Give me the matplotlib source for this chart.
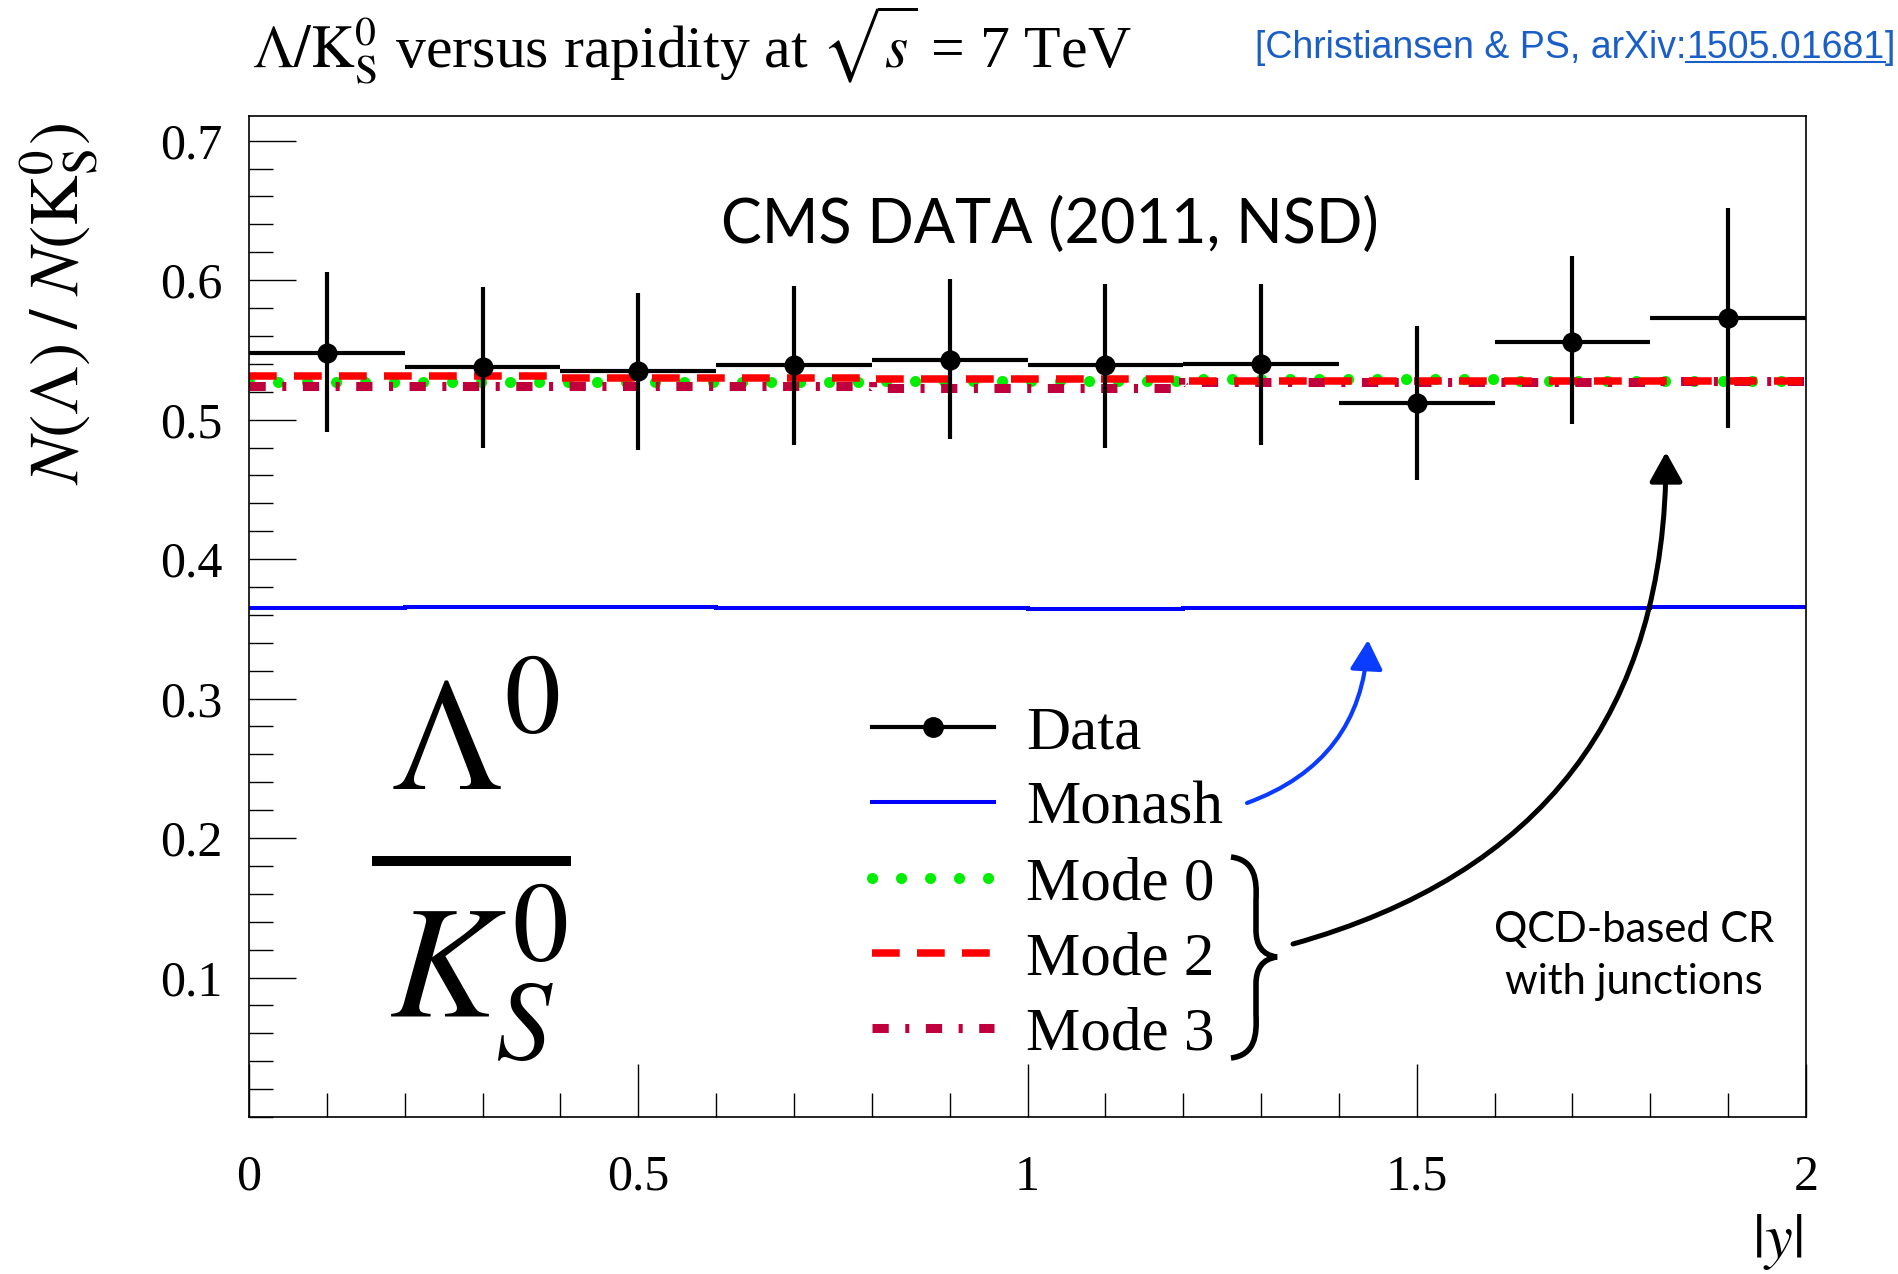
import numpy as np
import matplotlib
matplotlib.use("Agg")
import matplotlib.pyplot as plt
from matplotlib.lines import Line2D
from matplotlib.patches import FancyArrowPatch, PathPatch
from matplotlib.path import Path
from matplotlib.ticker import MultipleLocator, FuncFormatter

plt.rcParams["font.family"] = ["Liberation Serif", "DejaVu Serif"]
plt.rcParams["mathtext.fontset"] = "stix"

# |y| binning, 10 bins of 0.2
bin_edges = [0.0, 0.2, 0.4, 0.6, 0.8, 1.0, 1.2, 1.4, 1.6, 1.8, 2.0]
bin_centers = [0.1, 0.3, 0.5, 0.7, 0.9, 1.1, 1.3, 1.5, 1.7, 1.9]

# CMS data (2011, NSD): ratio and error bar ends
data_ratio = [0.548, 0.538, 0.535, 0.539, 0.543, 0.539, 0.540, 0.512, 0.556, 0.573]
data_high = [0.606, 0.595, 0.591, 0.596, 0.601, 0.597, 0.597, 0.567, 0.617, 0.652]
data_low = [0.491, 0.480, 0.478, 0.482, 0.486, 0.480, 0.482, 0.457, 0.497, 0.494]

# Pythia predictions
monash = [0.3650, 0.3655, 0.3657, 0.3650, 0.3650, 0.3643, 0.3646, 0.3646, 0.3650, 0.3657]
mode0 = [0.527, 0.527, 0.527, 0.527, 0.528, 0.528, 0.529, 0.529, 0.528, 0.528]
mode2 = [0.531, 0.531, 0.530, 0.530, 0.529, 0.529, 0.528, 0.528, 0.528, 0.528]
mode3 = [0.524, 0.524, 0.524, 0.524, 0.523, 0.523, 0.527, 0.527, 0.527, 0.528]

y_ticks = [0.1, 0.2, 0.3, 0.4, 0.5, 0.6, 0.7]
legend_labels = ["Data", "Monash", "Mode 0", "Mode 2", "Mode 3"]

W, H = 1898, 1274


def fx(px):
    return px / W


def fy(py):
    return 1 - py / H


fig = plt.figure(figsize=(W / 100, H / 100), dpi=100)
ax = fig.add_axes([fx(249), fy(1117), (1806 - 249) / W, (1117 - 116) / H])

green, red, crimson, blue = "#00ee00", "#ff0000", "#c0003c", "#0000ff"
dots = (0, (0.01, 2.6))
dashes = (0, (3.7, 2.3))
dashdot = (0, (1.8, 1.83, 0.45, 1.83))

ax.stairs(monash, bin_edges, baseline=None, color=blue, lw=2.9)
ax.stairs(mode0, bin_edges, baseline=None, color=green, lw=8, linestyle=dots, capstyle="round")
ax.stairs(mode3, bin_edges, baseline=None, color=crimson, lw=6.5, linestyle=dashdot)
ax.stairs(mode2, bin_edges, baseline=None, color=red, lw=5.4, linestyle=dashes)

xerr = np.diff(bin_edges) / 2
yerr = [np.subtract(data_ratio, data_low), np.subtract(data_high, data_ratio)]
ax.errorbar(bin_centers, data_ratio, xerr=xerr, yerr=yerr, fmt="o", color="black",
            ms=13.5, elinewidth=3, capsize=0, zorder=5)

ax.set_xlim(0, 2)
ax.set_ylim(0, 0.7177)
ax.xaxis.set_major_locator(MultipleLocator(0.5))
ax.xaxis.set_minor_locator(MultipleLocator(0.1))
ax.set_yticks(y_ticks)
ax.yaxis.set_minor_locator(MultipleLocator(0.02))
ax.xaxis.set_major_formatter(FuncFormatter(lambda v, p: "%g" % v))
ax.yaxis.set_major_formatter(FuncFormatter(lambda v, p: "%g" % v))
ax.tick_params(which="both", direction="in", top=False, right=False, width=1)
ax.tick_params(axis="x", which="major", length=38, labelsize=36, pad=27)
ax.tick_params(axis="x", which="minor", length=17)
ax.tick_params(axis="y", which="major", length=34, labelsize=36, pad=19)
ax.tick_params(axis="y", which="minor", length=17)
for s in ax.spines.values():
    s.set_linewidth(1.2)

# legend
handles = [
    Line2D([], [], color="black", marker="o", ms=14, lw=3),
    Line2D([], [], color=blue, lw=2.9),
    Line2D([], [], color=green, lw=8, linestyle=dots, dash_capstyle="round"),
    Line2D([], [], color=red, lw=5.4, linestyle=dashes),
    Line2D([], [], color=crimson, lw=6.5, linestyle=dashdot),
]
ax.legend(handles, legend_labels, loc="center left", bbox_to_anchor=(0.400, 0.2325),
          frameon=False, fontsize=44, handlelength=2.0, handletextpad=0.52,
          labelspacing=0.32, borderpad=0, borderaxespad=0)

# big fraction
fig.text(fx(390), fy(790), r"$\Lambda^0$", fontsize=115, ha="left", va="baseline")
fig.text(fx(389), fy(1018), r"$K^0_S$", fontsize=115, ha="left", va="baseline")
fig.add_artist(Line2D([fx(372), fx(571)], [fy(861), fy(861)], transform=fig.transFigure,
                      color="black", lw=7.2, solid_capstyle="butt"))

# texts
fig.text(fx(252), fy(68), r"$\Lambda/\mathrm{K}^0_\mathrm{S}$ versus rapidity at $\sqrt{s}$ = 7 TeV",
         fontsize=43, ha="left", va="baseline")
fig.text(fx(59), fy(304), r"$N(\Lambda)\;/\;N(\mathrm{K}^0_\mathrm{S})$", fontsize=50,
         rotation=90, ha="center", va="center")
fig.text(fx(1802), fy(1242), r"$|y|$", fontsize=45, ha="right", va="center")
fig.text(fx(1050), fy(243), "CMS DATA (2011, NSD)", family=["Lato", "DejaVu Sans"],
         fontsize=44, ha="center", va="baseline")
fig.text(fx(1634), fy(956), "QCD-based CR\nwith junctions", family=["Lato", "DejaVu Sans"],
         fontsize=30, ha="center", va="center", linespacing=1.45)

# citation with underlined arXiv number
cite_col = "#1a5fc8"
cite_kw = dict(fontsize=27, family=["Liberation Sans", "DejaVu Sans"], color=cite_col, va="baseline")
renderer = fig.canvas.get_renderer()
p1 = fig.text(fx(1255), fy(58), "[Christiansen & PS, arXiv:", **cite_kw)
bb1 = p1.get_window_extent(renderer)
p2 = fig.text(bb1.x1 / W, fy(58), "1505.01681", **cite_kw)
bb2 = p2.get_window_extent(renderer)
fig.text(bb2.x1 / W, fy(58), "]", **cite_kw)
fig.add_artist(Line2D([bb2.x0 / W, bb2.x1 / W], [fy(62), fy(62)], transform=fig.transFigure,
                      color=cite_col, lw=1.5))

# brace
brace_px = [(1231, 857), (1255, 860), (1257, 880), (1256, 900), (1256, 930),
            (1256, 945), (1262, 955), (1277, 957),
            (1262, 959), (1256, 969), (1256, 984), (1256, 1015),
            (1257, 1035), (1255, 1055), (1231, 1058)]
codes = [Path.MOVETO, Path.CURVE4, Path.CURVE4, Path.CURVE4, Path.LINETO,
         Path.CURVE4, Path.CURVE4, Path.CURVE4,
         Path.CURVE4, Path.CURVE4, Path.CURVE4, Path.LINETO,
         Path.CURVE4, Path.CURVE4, Path.CURVE4]
brace = Path([(fx(a), fy(b)) for a, b in brace_px], codes)
fig.add_artist(PathPatch(brace, fill=False, lw=4, color="black", transform=fig.transFigure))

# arrows
fig.add_artist(FancyArrowPatch((fx(1293), fy(944)), (fx(1666), fy(452)), transform=fig.transFigure,
                               connectionstyle="arc3,rad=0.38",
                               arrowstyle="-|>,head_length=0.9,head_width=0.5",
                               mutation_scale=20, lw=3.6, color="black", shrinkA=0, shrinkB=0))
fig.add_artist(FancyArrowPatch((fx(1247), fy(803)), (fx(1368), fy(640)), transform=fig.transFigure,
                               connectionstyle="arc3,rad=0.33",
                               arrowstyle="-|>,head_length=0.9,head_width=0.5",
                               mutation_scale=20, lw=3, color="#0a3cff", shrinkA=0, shrinkB=0))

fig.savefig("out.png", dpi=100)
